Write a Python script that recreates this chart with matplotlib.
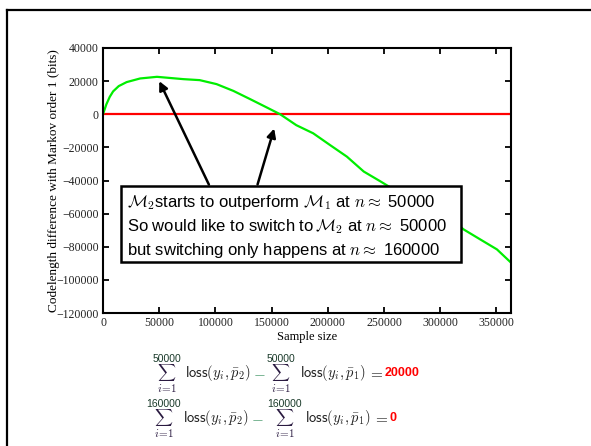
import matplotlib
matplotlib.use('Agg')
import matplotlib.pyplot as plt
from matplotlib.lines import Line2D

plt.rcParams['mathtext.fontset'] = 'cm'

# codelength difference curve
sample_size = [0, 3000, 6000, 9000, 14000, 21000, 33000, 48000, 71500, 86000, 101000, 116000,
               131000, 146000, 157600, 172000, 187000, 202000, 217000, 232000, 247000,
               261500, 276000, 291000, 306000, 321000, 335700, 350500, 363000]
codelen_diff = [0, 6000, 10500, 13800, 17000, 19400, 21600, 22600, 21200, 20600, 18200, 14100,
                9100, 4000, 0, -6600, -11500, -18600, -25600, -34600, -40600,
                -46600, -49600, -53600, -61600, -69600, -75600, -81600, -89600]

xticks = [0, 50000, 100000, 150000, 200000, 250000, 300000, 350000]
yticks = [40000, 20000, 0, -20000, -40000, -60000, -80000, -100000, -120000]

box_lines = [r'$\mathcal{M}_2$starts to outperform $\mathcal{M}_1$ at $n\approx$ 50000',
             r'So would like to switch to$\,\mathcal{M}_2$ at $n\approx$ 50000',
             r'but switching only happens at $n\approx$ 160000']
sum_limits = ['50000', '160000']
sum_results = ['20000', '0']

fig = plt.figure(figsize=(5.91, 4.46), dpi=100)
W, H = 591, 446

# slide frame
fig.add_artist(Line2D([7/W, 7/W], [0, 1-10/H], color='k', lw=1.6))
fig.add_artist(Line2D([7/W, 1], [1-10/H, 1-10/H], color='k', lw=1.6))

ax = fig.add_axes([103/W, 1-313/H, 408/W, 265/H])
ax.plot([0, 363000], [0, 0], color='#ff0000', lw=1.6)
ax.plot(sample_size, codelen_diff, color='#00ee00', lw=1.6)
ax.set_xlim(0, 363000)
ax.set_ylim(-120000, 40000)
ax.set_xticks(xticks)
ax.set_yticks(yticks)
for sp in ax.spines.values():
    sp.set_linewidth(1.5)
ax.tick_params(direction='in', top=True, right=True, length=4, width=1.3,
               labelsize=8.5, pad=3, labelfontfamily='Liberation Serif', labelcolor='#222222')
ax.set_xlabel('Sample size', family='Liberation Serif', fontsize=9, labelpad=1)
ax.set_ylabel('Codelength difference with Markov order 1 (bits)',
              family='Liberation Serif', fontsize=9.5, labelpad=-3)

# arrows from the box
ax.annotate('', xy=(49000, 21500), xytext=(95300, -44000),
            arrowprops=dict(arrowstyle='-|>', color='k', lw=1.8, mutation_scale=13))
ax.annotate('', xy=(153000, -7000), xytext=(136800, -44000),
            arrowprops=dict(arrowstyle='-|>', color='k', lw=1.8, mutation_scale=13))

# the text box
fig.patches.append(plt.Rectangle((121/W, 1-262/H), 340/W, 76/H, transform=fig.transFigure,
                                 fc='white', ec='k', lw=1.8, zorder=5))
for i, line in enumerate(box_lines):
    fig.text(127/W, 1-(203+23.5*i)/H, line, family='Liberation Sans', fontsize=12,
             va='center', ha='left', zorder=6)

# sums below
sum_y = [373, 418]
sum_x = [(167, 281), (164, 285)]
loss_x = [(185, 300), (183, 305)]
for i, (lim, res) in enumerate(zip(sum_limits, sum_results)):
    yc = sum_y[i]
    for cx in sum_x[i]:
        fig.text(cx/W, 1-yc/H, r'$\sum$', fontsize=9, color='#2a1a40', ha='center', va='center')
        fig.text(cx/W, 1-(yc-14)/H, lim, fontsize=7.5, color='#1a3a2a', ha='center',
                 va='center', family='Liberation Sans')
        fig.text(cx/W, 1-(yc+15)/H, r'$i\!=\!1$', fontsize=8, color='#2a1a40',
                 ha='center', va='center')
    fig.text(loss_x[i][0]/W, 1-yc/H, r'$\mathsf{loss}(y_i,\bar{p}_2)$', fontsize=10.5,
             color='#222222', va='center')
    fig.text((loss_x[i][0]+68)/W, 1-yc/H, r'$-$', fontsize=11, color='#2e8b57', va='center')
    fig.text(loss_x[i][1]/W, 1-yc/H, r'$\mathsf{loss}(y_i,\bar{p}_1)$', fontsize=10.5,
             color='#222222', va='center')
    fig.text((loss_x[i][1]+68)/W, 1-yc/H, r'$=$', fontsize=11, color='#222222', va='center')
    fig.text((loss_x[i][1]+85)/W, 1-yc/H, res, fontsize=9, color='#ff0000', weight='bold',
             family='Liberation Sans', va='center')

fig.savefig('out.png', dpi=100)
